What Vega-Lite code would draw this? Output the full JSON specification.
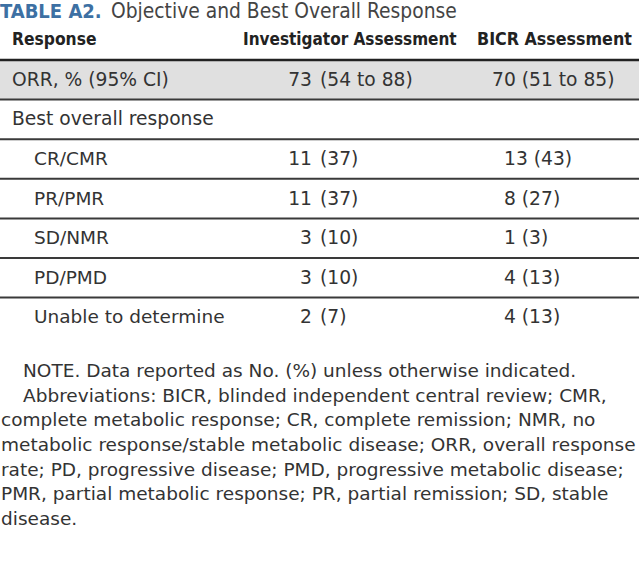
{
  "$schema": "https://vega.github.io/schema/vega-lite/v6.json",
  "width": 639,
  "height": 561,
  "autosize": "none",
  "padding": 0,
  "background": "white",
  "config": {"view": {"stroke": null}, "text": {"font": "DejaVu Sans"}},
  "datasets": {
    "rows": [
      {"key": "ORR", "level": 0, "label": "ORR, % (95% CI)", "inv_n": "73", "inv_ci": "(54 to 88)", "bicr": "70 (51 to 85)"},
      {"key": "Best", "level": 0, "label": "Best overall response", "inv_n": "", "inv_ci": "", "bicr": ""},
      {"key": "CR", "level": 1, "label": "CR/CMR", "inv_n": "11", "inv_ci": "(37)", "bicr": "13 (43)"},
      {"key": "PR", "level": 1, "label": "PR/PMR", "inv_n": "11", "inv_ci": "(37)", "bicr": "8 (27)"},
      {"key": "SD", "level": 1, "label": "SD/NMR", "inv_n": "3", "inv_ci": "(10)", "bicr": "1 (3)"},
      {"key": "PD", "level": 1, "label": "PD/PMD", "inv_n": "3", "inv_ci": "(10)", "bicr": "4 (13)"},
      {"key": "UTD", "level": 1, "label": "Unable to determine", "inv_n": "2", "inv_ci": "(7)", "bicr": "4 (13)"}
    ],
    "header": [
      {"key": "header", "response": "Response", "inv": "Investigator Assessment", "bicr": "BICR Assessment"}
    ],
    "title": [
      {"key": "title", "label": "TABLE A2.", "caption": "Objective and Best Overall Response"}
    ],
    "notes": [
      {"line": 1, "text": "NOTE. Data reported as No. (%) unless otherwise indicated."},
      {"line": 2, "text": "Abbreviations: BICR, blinded independent central review; CMR,"},
      {"line": 3, "text": "complete metabolic response; CR, complete remission; NMR, no"},
      {"line": 4, "text": "metabolic response/stable metabolic disease; ORR, overall response"},
      {"line": 5, "text": "rate; PD, progressive disease; PMD, progressive metabolic disease;"},
      {"line": 6, "text": "PMR, partial metabolic response; PR, partial remission; SD, stable"},
      {"line": 7, "text": "disease."}
    ]
  },
  "resolve": {"scale": {"y": "independent"}},
  "layer": [
    {
      "layer": [
        {
          "data": {"name": "rows"},
          "transform": [{"filter": "datum.key == 'ORR'"}],
          "mark": {"type": "rect", "color": "#e0e0e0"},
          "encoding": {
            "x": {"datum": 0, "type": "quantitative", "scale": {"domain": [0, 639], "range": [0, 639], "nice": false, "zero": false}, "axis": null},
            "x2": {"datum": 639},
            "y": {"field": "key", "type": "nominal", "axis": null, "scale": {"type": "band", "domain": ["title", "header", "ORR", "Best", "CR", "PR", "SD", "PD", "UTD"], "range": [-19.2, 337.2], "paddingInner": 0, "paddingOuter": 0}}
          }
        },
        {
          "data": {"name": "rows"},
          "transform": [{"filter": "datum.key != 'UTD'"}],
          "mark": {"type": "rule", "color": "#3a3a3a", "strokeWidth": 2},
          "encoding": {
            "x": {"datum": 0, "type": "quantitative"},
            "x2": {"datum": 639},
            "y": {"field": "key", "type": "nominal", "bandPosition": 1}
          }
        },
        {
          "data": {"name": "header"},
          "mark": {"type": "rule", "color": "#222222", "strokeWidth": 2.5},
          "encoding": {
            "x": {"datum": 0, "type": "quantitative"},
            "x2": {"datum": 639},
            "y": {"field": "key", "type": "nominal", "bandPosition": 1}
          }
        },
        {
          "data": {"name": "header"},
          "mark": {"type": "text", "align": "left", "baseline": "middle", "fontSize": 17.3, "font": "DejaVu Sans Condensed", "fontWeight": "bold", "color": "#222222"},
          "encoding": {
            "x": {"datum": 12, "type": "quantitative"},
            "y": {"field": "key", "type": "nominal", "bandPosition": 0.5},
            "text": {"field": "response"}
          }
        },
        {
          "data": {"name": "header"},
          "mark": {"type": "text", "align": "left", "baseline": "middle", "fontSize": 17, "font": "DejaVu Sans Condensed", "fontWeight": "bold", "color": "#222222"},
          "encoding": {
            "x": {"datum": 243, "type": "quantitative"},
            "y": {"field": "key", "type": "nominal", "bandPosition": 0.5},
            "text": {"field": "inv"}
          }
        },
        {
          "data": {"name": "header"},
          "mark": {"type": "text", "align": "left", "baseline": "middle", "fontSize": 17.7, "font": "DejaVu Sans Condensed", "fontWeight": "bold", "color": "#222222"},
          "encoding": {
            "x": {"datum": 477, "type": "quantitative"},
            "y": {"field": "key", "type": "nominal", "bandPosition": 0.5},
            "text": {"field": "bicr"}
          }
        },
        {
          "data": {"name": "rows"},
          "transform": [{"filter": "datum.level == 0"}],
          "mark": {"type": "text", "align": "left", "baseline": "middle", "fontSize": 18.7, "color": "#333333"},
          "encoding": {
            "x": {"datum": 12, "type": "quantitative"},
            "y": {"field": "key", "type": "nominal", "bandPosition": 0.5},
            "text": {"field": "label"}
          }
        },
        {
          "data": {"name": "rows"},
          "transform": [{"filter": "datum.level == 1"}],
          "mark": {"type": "text", "align": "left", "baseline": "middle", "fontSize": 18.5, "color": "#333333"},
          "encoding": {
            "x": {"datum": 34, "type": "quantitative"},
            "y": {"field": "key", "type": "nominal", "bandPosition": 0.5},
            "text": {"field": "label"}
          }
        },
        {
          "data": {"name": "rows"},
          "mark": {"type": "text", "align": "right", "baseline": "middle", "fontSize": 18.7, "color": "#333333"},
          "encoding": {
            "x": {"datum": 312, "type": "quantitative"},
            "y": {"field": "key", "type": "nominal", "bandPosition": 0.5},
            "text": {"field": "inv_n"}
          }
        },
        {
          "data": {"name": "rows"},
          "mark": {"type": "text", "align": "left", "baseline": "middle", "fontSize": 18.7, "color": "#333333"},
          "encoding": {
            "x": {"datum": 320, "type": "quantitative"},
            "y": {"field": "key", "type": "nominal", "bandPosition": 0.5},
            "text": {"field": "inv_ci"}
          }
        },
        {
          "data": {"name": "rows"},
          "transform": [{"filter": "datum.key != 'ORR'"}],
          "mark": {"type": "text", "align": "left", "baseline": "middle", "fontSize": 18.7, "color": "#333333"},
          "encoding": {
            "x": {"datum": 504, "type": "quantitative"},
            "y": {"field": "key", "type": "nominal", "bandPosition": 0.5},
            "text": {"field": "bicr"}
          }
        },
        {
          "data": {"name": "rows"},
          "transform": [{"filter": "datum.key == 'ORR'"}],
          "mark": {"type": "text", "align": "left", "baseline": "middle", "fontSize": 18.7, "color": "#333333"},
          "encoding": {
            "x": {"datum": 492, "type": "quantitative"},
            "y": {"field": "key", "type": "nominal", "bandPosition": 0.5},
            "text": {"field": "bicr"}
          }
        },
        {
          "data": {"name": "title"},
          "mark": {"type": "text", "align": "left", "baseline": "middle", "fontSize": 20, "font": "DejaVu Sans Condensed", "fontWeight": "bold", "color": "#3d70a3"},
          "encoding": {
            "x": {"datum": 0, "type": "quantitative"},
            "y": {"field": "key", "type": "nominal", "bandPosition": 0.79},
            "text": {"field": "label"}
          }
        },
        {
          "data": {"name": "title"},
          "mark": {"type": "text", "align": "left", "baseline": "middle", "fontSize": 20.8, "font": "DejaVu Sans Condensed", "color": "#444444"},
          "encoding": {
            "x": {"datum": 111, "type": "quantitative"},
            "y": {"field": "key", "type": "nominal", "bandPosition": 0.79},
            "text": {"field": "caption"}
          }
        }
      ]
    },
    {
      "layer": [
        {
          "data": {"name": "notes"},
          "transform": [{"filter": "datum.line <= 2"}],
          "mark": {"type": "text", "align": "left", "baseline": "middle", "fontSize": 18.5, "color": "#333333"},
          "encoding": {
            "x": {"datum": 23, "type": "quantitative"},
            "y": {"field": "line", "type": "ordinal", "axis": null, "scale": {"type": "band", "domain": [1, 2, 3, 4, 5, 6, 7], "range": [358.6, 531.5], "paddingInner": 0, "paddingOuter": 0}},
            "text": {"field": "text"}
          }
        },
        {
          "data": {"name": "notes"},
          "transform": [{"filter": "datum.line > 2"}],
          "mark": {"type": "text", "align": "left", "baseline": "middle", "fontSize": 18.5, "color": "#333333"},
          "encoding": {
            "x": {"datum": 1, "type": "quantitative"},
            "y": {"field": "line", "type": "ordinal", "bandPosition": 0.5},
            "text": {"field": "text"}
          }
        }
      ]
    }
  ]
}
